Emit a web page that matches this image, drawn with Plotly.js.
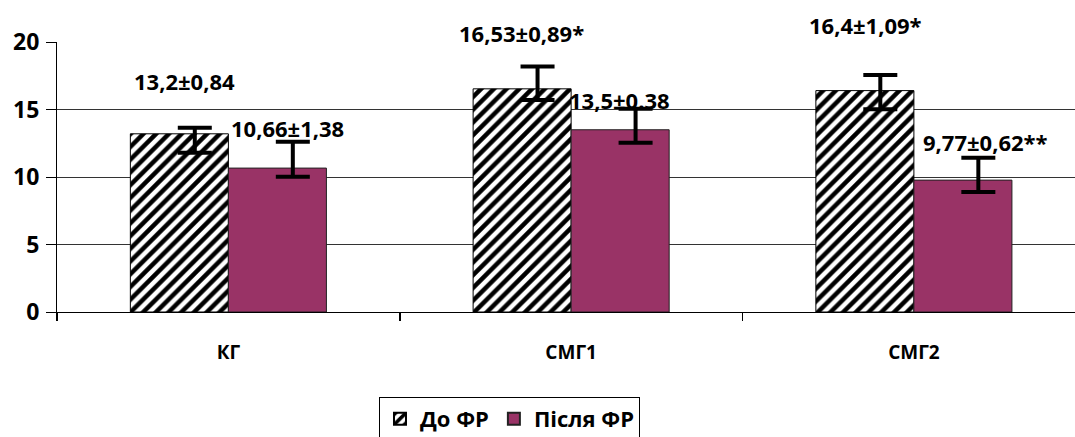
<!DOCTYPE html>
<html>
<head>
<meta charset="utf-8">
<script src="https://cdn.plot.ly/plotly-3.0.1.min.js"></script>
<style>html,body{margin:0;padding:0;background:#fff;}#chart{width:1075px;height:437px;}</style>
</head>
<body>
<div id="chart"></div>
<script>
// ---- data ----
const categories = ['КГ', 'СМГ1', 'СМГ2'];
const seriesNames = ['До ФР', 'Після ФР'];
const beforeValues = [13.2, 16.53, 16.4];
const afterValues = [10.66, 13.5, 9.77];
// error bars as drawn in the picture (asymmetric)
const beforeErrPlus = [0.44, 1.65, 1.16];
const beforeErrMinus = [1.4, 0.82, 1.39];
const afterErrPlus = [1.96, 1.56, 1.65];
const afterErrMinus = [0.64, 0.96, 0.89];
const beforeLabels = ['13,2±0,84', '16,53±0,89*', '16,4±1,09*'];
const afterLabels = ['10,66±1,38', '13,5±0.38', '9,77±0,62**'];
const yTicks = [0, 5, 10, 15, 20];

// ---- layout constants (positions / styles) ----
const yMax = 20;
const halfBar = 0.143;          // bar centre offset in category units
const errShift = 0.045;         // error bars drawn slightly right of bar centre
const beforeLabelDx = [-0.128, -0.146, -0.14];
const beforeLabelY = [17.1, 20.67, 21.26];
const afterLabelDx = [0.172, 0.14, 0.21];
const afterLabelY = [13.63, 15.7, 12.59];
const FONT = 'Open Sans, Liberation Sans, sans-serif';
const plum = '#993366';

const xIdx = categories.map((c, i) => i);

const traces = [
  {
    type: 'bar', name: '<b>' + seriesNames[0] + '</b>', x: xIdx, y: beforeValues,
    marker: {
      color: '#ffffff',
      pattern: {shape: '/', size: 9, solidity: 0.5, fgcolor: '#000000', bgcolor: '#ffffff'},
      line: {color: '#000000', width: 1}
    },
    hoverinfo: 'skip'
  },
  {
    type: 'bar', name: '<b>' + seriesNames[1] + '</b>', x: xIdx, y: afterValues,
    marker: {color: plum, line: {color: '#222222', width: 1}},
    hoverinfo: 'skip'
  },
  {
    type: 'scatter', mode: 'markers', showlegend: false, hoverinfo: 'skip',
    x: xIdx.map(i => i - halfBar + errShift), y: beforeValues,
    marker: {size: 1, opacity: 0},
    error_y: {type: 'data', symmetric: false, array: beforeErrPlus, arrayminus: beforeErrMinus,
              color: '#000000', thickness: 4, width: 17}
  },
  {
    type: 'scatter', mode: 'markers', showlegend: false, hoverinfo: 'skip',
    x: xIdx.map(i => i + halfBar + errShift), y: afterValues,
    marker: {size: 1, opacity: 0},
    error_y: {type: 'data', symmetric: false, array: afterErrPlus, arrayminus: afterErrMinus,
              color: '#000000', thickness: 4, width: 17}
  }
];

const annotations = [];
xIdx.forEach(i => {
  annotations.push({x: i + beforeLabelDx[i], y: beforeLabelY[i] / yMax, xref: 'x', yref: 'paper',
    xanchor: 'center', yanchor: 'middle',
    text: '<b>' + beforeLabels[i] + '</b>', showarrow: false,
    font: {family: FONT, size: 22, color: '#000'}});
  annotations.push({x: i + afterLabelDx[i], y: afterLabelY[i] / yMax, xref: 'x', yref: 'paper',
    xanchor: 'center', yanchor: 'middle',
    text: '<b>' + afterLabels[i] + '</b>', showarrow: false,
    font: {family: FONT, size: 22, color: '#000'}});
});

const layout = {
  width: 1075, height: 437,
  margin: {l: 57, r: 0, t: 42, b: 125, autoexpand: false},
  paper_bgcolor: '#ffffff', plot_bgcolor: '#ffffff',
  barmode: 'group', bargap: 0.428, bargroupgap: 0,
  showlegend: true,
  font: {family: FONT, color: '#000'},
  xaxis: {
    type: 'linear', range: [-0.5, 2.47],
    tickvals: xIdx, ticktext: categories.map(c => '<b>' + c + '</b>'),
    ticks: '', showgrid: false, zeroline: false,
    showline: true, linecolor: '#000', linewidth: 1,
    tickfont: {family: FONT, size: 19, color: '#000'},
    ticklabelstandoff: 23,
    minor: {tickvals: [-0.5, 0.5, 1.5, 2.5], ticks: 'outside', ticklen: 8, tickcolor: '#000', tickwidth: 1.5, showgrid: false}
  },
  yaxis: {
    range: [0, yMax], tickvals: yTicks, ticktext: yTicks.map(v => '<b>' + v + '</b>'),
    ticks: 'outside', ticklen: 10, tickcolor: '#000', tickwidth: 1,
    showgrid: true, gridcolor: '#333333', gridwidth: 1,
    zeroline: false, showline: true, linecolor: '#000', linewidth: 1,
    tickfont: {family: FONT, size: 23, color: '#000'},
    ticklabelstandoff: 2
  },
  legend: {
    orientation: 'h', x: 0.3163, xanchor: 'left', y: -0.3148, yanchor: 'top',
    bordercolor: '#000', borderwidth: 1, bgcolor: '#fff',
    font: {family: FONT, size: 22, color: '#000'},
    itemsizing: 'constant', traceorder: 'normal'
  },
  annotations: annotations
};

Plotly.newPlot('chart', traces, layout, {displayModeBar: false, staticPlot: true});
</script>
</body>
</html>
